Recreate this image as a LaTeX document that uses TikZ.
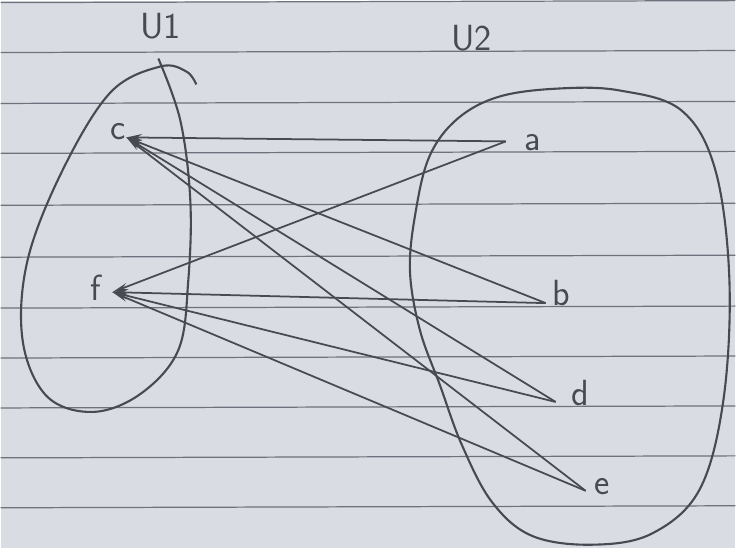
\documentclass[tikz,border=0pt]{standalone}
\usepackage{tikz}
\usetikzlibrary{arrows.meta, positioning, calc}
\definecolor{paper}{HTML}{D9DCE2}
\definecolor{rule}{HTML}{6E727C}
\definecolor{pencil}{HTML}{474A53}
\tikzset{
  lbl/.style={font=\huge\sffamily,text=pencil,inner sep=1pt},
  setline/.style={draw=pencil,line width=1.2pt},
  edge/.style={draw=pencil,line width=1pt,{Stealth[length=9pt,width=4pt]}-}
}

\begin{document}
\begin{tikzpicture}[x=0.02cm,y=-0.02cm]

  % Paper
  \fill[paper] (0,0) rectangle (736,548);
  \foreach \y in {2,52,103,153,205,257,308,358,408,458,508}{
    \draw[rule,line width=0.7pt] (0,\y) -- (736,\y-2);
  }

  % Set labels
  \node[lbl] (u1) at (160,26) {U1};
  \node[lbl] (u2) at (472,38) {U2};

  % Set outlines
  \draw[setline] plot[smooth,tension=0.6] coordinates {
    (196,84) (186,71) (160,66) (110,92) (62,170) (27,260) (22,340) (46,396)
    (92,412) (140,394) (178,350) (188,280) (190,200) (180,120) (158,58)};
  \draw[setline] plot[smooth cycle,tension=0.6] coordinates {
    (416,210) (410,270) (420,330) (440,385) (462,445) (492,502) (532,536)
    (592,545) (652,534) (700,490) (724,400) (730,280) (716,170) (682,110)
    (620,90) (560,88) (500,96) (458,118) (430,155)};

  % Vertices
  \node[lbl] (c) at (118,131) {c};
  \node[lbl] (f) at (95,288) {f};
  \node[lbl] (a) at (533,142) {a};
  \node[lbl] (b) at (562,293) {b};
  \node[lbl] (d) at (581,393) {d};
  \node[lbl] (e) at (602,487) {e};

  \coordinate (cp) at (126,137);
  \coordinate (fp) at (112,292);
  \coordinate (ap) at (506,141);
  \coordinate (bp) at (546,303);
  \coordinate (dp) at (556,402);
  \coordinate (ep) at (586,491);

  % Edges
  \foreach \u in {cp,fp}{
    \foreach \v in {ap,bp,dp,ep}{
      \draw[edge] (\u) -- (\v);
    }
  }

\end{tikzpicture}
\end{document}
